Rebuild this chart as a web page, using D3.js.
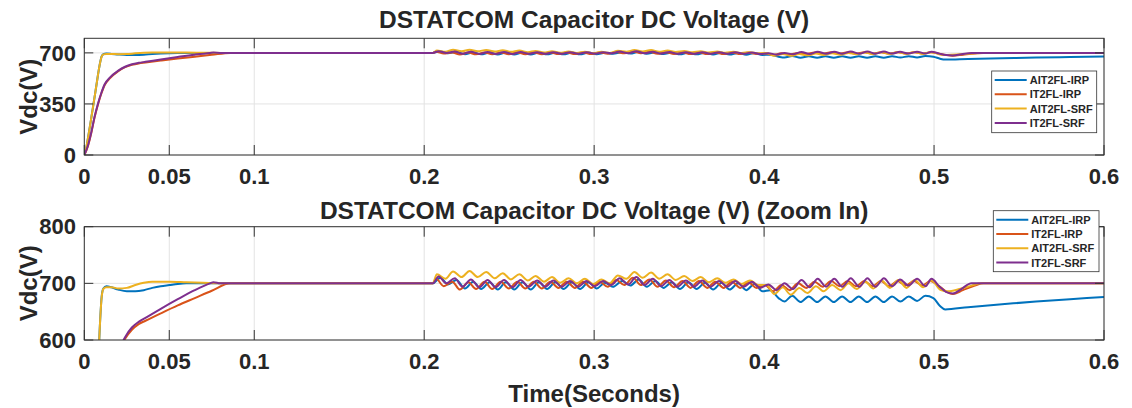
<!DOCTYPE html>
<html>
<head>
<meta charset="utf-8">
<script src="https://cdn.jsdelivr.net/npm/d3@7/dist/d3.min.js"></script>
<style>
  body { margin: 0; background: #fff; }
  text { font-family: "Liberation Sans", Arial, sans-serif; font-weight: bold; fill: #262626; }
</style>
</head>
<body>
<svg id="chart" width="1132" height="408"></svg>
<script>
//tick values and labels
var xTicks = [0, 0.05, 0.1, 0.2, 0.3, 0.4, 0.5, 0.6];
var yTicksFull = [0, 350, 700];
var yTicksZoom = [600, 700, 800];

var seriesNames = ["AIT2FL-IRP", "IT2FL-IRP", "AIT2FL-SRF", "IT2FL-SRF"];
var seriesColors = ["#0072BD", "#D95319", "#EDB120", "#7E2F8E"];

//[time (s), Vdc (V)]
var ait2flIrp = [[0,0],[0.001,40],[0.002,105],[0.0035,210],[0.005,320],[0.0065,430],[0.008,545],[0.009,615],[0.0102,676],[0.0112,691],[0.013,695],[0.016,693],[0.02,689],[0.025,686],[0.03,686],[0.035,688],[0.04,692],[0.045,695],[0.05,697],[0.055,699],[0.06,700],[0.205,700],
  [0.2095,710],[0.214,698],[0.219,706],[0.224,691],[0.2288,703],[0.2335,690],[0.2385,702],[0.2433,689],[0.248,702],[0.253,689],[0.2578,702],[0.2627,689],[0.2675,702],[0.2723,690],[0.2772,702],[0.282,690],[0.287,702],[0.2917,690],[0.2967,702],[0.3015,691],[0.3063,701],[0.311,694],
  [0.3165,704],[0.3213,696],[0.3262,707],[0.331,694],[0.336,704],[0.3408,692],[0.3458,702],[0.3505,690],[0.3555,702],[0.3603,690],[0.3652,701],[0.37,689],[0.375,701],[0.3797,689],[0.3847,700],[0.3895,688],[0.3943,699],[0.399,686],[0.4035,688],[0.4085,674],[0.412,668],
  [0.4165,678],[0.4214,667],[0.4263,677],[0.4312,667],[0.4361,677],[0.441,667],[0.4459,677],[0.4508,667],[0.4557,677],[0.4606,667],[0.4655,677],[0.4704,667],[0.4753,677],[0.4802,668],[0.4851,677],[0.49,669],[0.4949,678],[0.4996,674],[0.5035,660],[0.5065,654],
  [0.52,658],[0.54,663],[0.56,668],[0.58,672],[0.6,676]];

var it2flIrp = [[0,0],[0.002,55],[0.004,145],[0.006,255],[0.008,345],[0.01,420],[0.012,480],[0.015,525],[0.02,575],[0.024,602],[0.028,618],[0.032,628],[0.036,634],[0.045,647],[0.055,661],[0.065,674],[0.075,687],[0.086,700],[0.205,700],
  [0.207,708],[0.2115,695],[0.2165,703],[0.221,689],[0.226,702],[0.2305,690],[0.2355,703],[0.24,690],[0.245,703],[0.2498,691],[0.2548,703],[0.2595,691],[0.2645,703],[0.2692,691],[0.2742,703],[0.279,692],[0.2838,703],[0.2887,692],[0.2935,703],[0.2983,692],[0.3032,703],[0.308,694],
  [0.313,706],[0.3178,697],[0.3228,710],[0.3275,697],[0.3325,707],[0.3373,694],[0.3422,705],[0.347,693],[0.352,704],[0.3567,692],[0.3617,704],[0.3665,692],[0.3713,703],[0.3762,692],[0.381,703],[0.386,692],[0.3908,702],[0.3955,692],[0.4005,697],[0.4053,686],
  [0.4102,697],[0.415,688],[0.42,700],[0.4248,692],[0.4297,703],[0.4345,694],[0.4395,704],[0.4443,695],[0.4492,704],[0.454,695],[0.459,704],[0.4638,695],[0.4687,704],[0.4735,695],[0.4785,704],[0.4833,696],[0.4882,704],[0.493,696],[0.498,704],[0.5025,696],
  [0.507,686],[0.511,681],[0.517,688],[0.524,696],[0.529,700],[0.6,700]];

var ait2flSrf = [[0,0],[0.001,40],[0.002,105],[0.0035,210],[0.005,320],[0.0065,430],[0.008,545],[0.009,615],[0.0102,675],[0.0112,690],[0.013,693],[0.016,693],[0.02,691],[0.025,692],[0.03,697],[0.035,701],[0.04,703],[0.05,703],[0.06,702],[0.07,701],[0.08,700],[0.205,700],
  [0.2075,716],[0.2125,708],[0.217,721],[0.222,711],[0.2267,722],[0.2315,711],[0.2365,720],[0.2415,709],[0.2462,718],[0.251,707],[0.256,716],[0.261,705],[0.2655,713],[0.2705,703],[0.2752,711],[0.28,701],[0.285,709],[0.2898,700],[0.2946,708],[0.2995,699],[0.3043,707],[0.309,700],
  [0.314,714],[0.319,708],[0.3237,720],[0.3285,710],[0.3335,719],[0.3383,708],[0.3432,716],[0.348,706],[0.353,713],[0.3578,704],[0.3627,711],[0.3675,702],[0.3724,709],[0.3772,701],[0.382,707],[0.3868,699],[0.3917,705],[0.3965,697],[0.4015,697],[0.406,681],
  [0.411,693],[0.4157,680],[0.4207,692],[0.4255,683],[0.4305,695],[0.435,686],[0.44,697],[0.445,688],[0.4497,700],[0.4545,690],[0.4595,703],[0.4643,691],[0.4692,705],[0.474,692],[0.479,706],[0.4838,692],[0.4887,706],[0.4935,693],[0.4985,705],
  [0.504,688],[0.508,686],[0.515,690],[0.522,696],[0.528,700],[0.6,700]];

var it2flSrf = [[0,0],[0.002,60],[0.004,150],[0.006,260],[0.008,350],[0.01,425],[0.012,485],[0.015,530],[0.02,578],[0.024,605],[0.028,622],[0.032,632],[0.036,639],[0.045,655],[0.055,672],[0.065,688],[0.074,700],[0.076,702],[0.08,700],[0.205,700],
  [0.2085,712],[0.213,700],[0.218,709],[0.2225,694],[0.2275,707],[0.2325,693],[0.2373,706],[0.242,693],[0.247,706],[0.252,693],[0.2567,706],[0.2615,694],[0.2665,705],[0.2713,694],[0.276,705],[0.281,694],[0.2858,704],[0.2907,694],[0.2955,704],[0.3005,695],[0.3053,704],[0.31,697],
  [0.315,709],[0.32,698],[0.3248,711],[0.3297,697],[0.3345,708],[0.3393,695],[0.3443,706],[0.349,694],[0.354,705],[0.3588,694],[0.3637,705],[0.3685,694],[0.3735,704],[0.3783,694],[0.383,704],[0.388,694],[0.3928,703],[0.3977,692],[0.4025,698],[0.4073,688],
  [0.412,700],[0.417,690],[0.422,706],[0.4268,693],[0.4315,708],[0.4365,694],[0.4413,708],[0.446,694],[0.451,709],[0.456,694],[0.4608,709],[0.4655,694],[0.4705,709],[0.4753,695],[0.48,707],[0.485,696],[0.49,708],[0.495,695],[0.4985,708],
  [0.503,695],[0.507,685],[0.511,682],[0.516,690],[0.522,700],[0.6,700]];

var allSeries = [ait2flIrp, it2flIrp, ait2flSrf, it2flSrf];

var svg = d3.select("#chart");
var x = d3.scaleLinear().domain([0, 0.6]).range([84.3, 1104]);

var panels = [
  {id: "full", top: 38.3, bottom: 155, domain: [0, 800], ticks: yTicksFull,
   title: "DSTATCOM Capacitor DC Voltage (V)", titleY: 28, legend: {x: 991.7, y: 71, w: 105, h: 61.7}},
  {id: "zoom", top: 226.7, bottom: 340, domain: [600, 800], ticks: yTicksZoom,
   title: "DSTATCOM Capacitor DC Voltage (V) (Zoom In)", titleY: 219, legend: {x: 993.3, y: 210.7, w: 105.7, h: 61}}
];

panels.forEach(function(p) {
  var y = d3.scaleLinear().domain(p.domain).range([p.bottom, p.top]);
  var x0 = x.range()[0], x1 = x.range()[1];
  var g = svg.append("g");

  //grid
  g.selectAll(".vgrid").data(xTicks).enter().append("line")
    .attr("x1", d => x(d)).attr("x2", d => x(d))
    .attr("y1", p.top).attr("y2", p.bottom)
    .attr("stroke", "#e3e3e3").attr("stroke-width", 1);
  g.selectAll(".hgrid").data(p.ticks).enter().append("line")
    .attr("x1", x0).attr("x2", x1)
    .attr("y1", d => y(d)).attr("y2", d => y(d))
    .attr("stroke", "#e3e3e3").attr("stroke-width", 1);

  //lines, clipped to the axes box
  svg.append("clipPath").attr("id", "clip-" + p.id).append("rect")
    .attr("x", x0).attr("y", p.top).attr("width", x1 - x0).attr("height", p.bottom - p.top);
  var line = d3.line().x(d => x(d[0])).y(d => y(d[1])).curve(d3.curveMonotoneX);
  g.append("g").attr("clip-path", "url(#clip-" + p.id + ")")
    .selectAll("path").data(allSeries).enter().append("path")
    .attr("d", line)
    .attr("fill", "none")
    .attr("stroke", (d, i) => seriesColors[i])
    .attr("stroke-width", 2)
    .attr("stroke-linejoin", "round");

  //inward ticks (top and bottom, left and right)
  xTicks.forEach(function(t) {
    g.append("line").attr("x1", x(t)).attr("x2", x(t)).attr("y1", p.bottom).attr("y2", p.bottom - 10).attr("stroke", "#333");
    g.append("line").attr("x1", x(t)).attr("x2", x(t)).attr("y1", p.top).attr("y2", p.top + 10).attr("stroke", "#333");
  });
  p.ticks.forEach(function(t) {
    g.append("line").attr("x1", x0).attr("x2", x0 + 9).attr("y1", y(t)).attr("y2", y(t)).attr("stroke", "#333");
    g.append("line").attr("x1", x1).attr("x2", x1 - 9).attr("y1", y(t)).attr("y2", y(t)).attr("stroke", "#333");
  });

  //box
  g.append("rect").attr("x", x0).attr("y", p.top).attr("width", x1 - x0).attr("height", p.bottom - p.top)
    .attr("fill", "none").attr("stroke", "#333").attr("stroke-width", 1);

  //tick labels
  g.selectAll(".xl").data(xTicks).enter().append("text")
    .attr("x", d => x(d)).attr("y", p.bottom + 29)
    .attr("text-anchor", "middle").style("font-size", "22px")
    .text(d => d3.format("")(d));
  g.selectAll(".yl").data(p.ticks).enter().append("text")
    .attr("x", 76).attr("y", d => y(d)).attr("dy", "0.35em")
    .attr("text-anchor", "end").style("font-size", "22px")
    .text(d => d);

  //y label
  g.append("text")
    .attr("transform", "translate(37," + ((p.top + p.bottom) / 2) + ") rotate(-90)")
    .attr("text-anchor", "middle").style("font-size", "24px")
    .text("Vdc(V)");

  //title
  g.append("text")
    .attr("x", (x0 + x1) / 2).attr("y", p.titleY)
    .attr("text-anchor", "middle").style("font-size", "24.5px")
    .text(p.title);

  //legend
  var L = p.legend;
  var lg = g.append("g").attr("transform", "translate(" + L.x + "," + L.y + ")");
  lg.append("rect").attr("width", L.w).attr("height", L.h).attr("fill", "#fff").attr("stroke", "#333").attr("stroke-width", 0.8);
  seriesNames.forEach(function(name, i) {
    var ry = 9 + i * 14.3;
    lg.append("line").attr("x1", 3).attr("x2", 35).attr("y1", ry).attr("y2", ry)
      .attr("stroke", seriesColors[i]).attr("stroke-width", 2);
    lg.append("text").attr("x", 38).attr("y", ry).attr("dy", "0.36em")
      .style("font-size", "11px").text(name);
  });
});

svg.append("text")
  .attr("x", (x.range()[0] + x.range()[1]) / 2).attr("y", 402)
  .attr("text-anchor", "middle").style("font-size", "24px")
  .text("Time(Seconds)");
</script>
</body>
</html>
